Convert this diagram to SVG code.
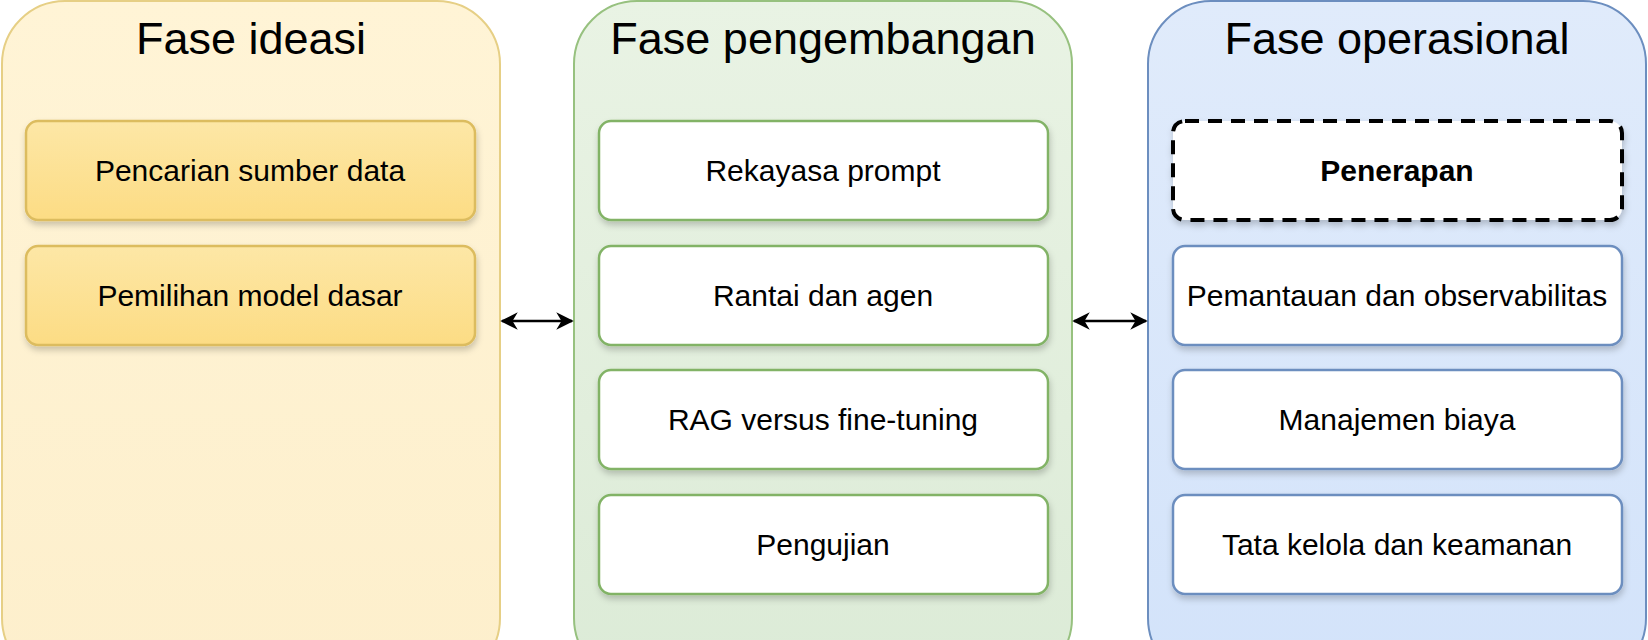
<svg xmlns="http://www.w3.org/2000/svg" width="1648" height="640" viewBox="0 0 1648 640">
<defs>
<linearGradient id="gy" x1="0" y1="0" x2="0" y2="1"><stop offset="0" stop-color="#fff4d6"/><stop offset="1" stop-color="#fdefcc"/></linearGradient>
<linearGradient id="gg" x1="0" y1="0" x2="0" y2="1"><stop offset="0" stop-color="#e9f3e4"/><stop offset="1" stop-color="#dcebd7"/></linearGradient>
<linearGradient id="gb" x1="0" y1="0" x2="0" y2="1"><stop offset="0" stop-color="#e0ebfb"/><stop offset="1" stop-color="#d3e3fa"/></linearGradient>
<linearGradient id="gyb" x1="0" y1="0" x2="0" y2="1"><stop offset="0" stop-color="#fde7a6"/><stop offset="1" stop-color="#fcdc84"/></linearGradient>
<filter id="sh" x="-10%" y="-20%" width="120%" height="150%"><feDropShadow dx="1" dy="4" stdDeviation="3" flood-color="#000" flood-opacity="0.2"/></filter>
<marker id="ah" viewBox="0 0 10 10" refX="9" refY="5" markerWidth="7" markerHeight="7" orient="auto-start-reverse"><path d="M0,0 L10,5 L0,10 L3,5 z" fill="#000"/></marker>
<style>
.t{font-family:"Liberation Sans",Arial,sans-serif;font-size:45px;fill:#000;text-anchor:middle}
.l{font-family:"Liberation Sans",Arial,sans-serif;font-size:30px;fill:#000;text-anchor:middle;dominant-baseline:central}
.p{stroke-width:2}
.b{stroke-width:2.5;filter:url(#sh)}
.c{stroke:#000;stroke-width:2.5;fill:none;marker-start:url(#ah);marker-end:url(#ah)}
</style>
</defs>
<g id="panel-ideasi">
<rect x="2" y="1" width="498" height="680" rx="63" fill="url(#gy)" stroke="#e6cf85" class="p"/>
<text class="t" x="251" y="54">Fase ideasi</text>
</g>
<g id="panel-pengembangan">
<rect x="574" y="1" width="498" height="680" rx="63" fill="url(#gg)" stroke="#97c17f" class="p"/>
<text class="t" x="823" y="54">Fase pengembangan</text>
</g>
<g id="panel-operasional">
<rect x="1148" y="1" width="498" height="680" rx="63" fill="url(#gb)" stroke="#6c8ebf" class="p"/>
<text class="t" x="1397" y="54">Fase operasional</text>
</g>
<g id="n1"><rect x="26" y="121" width="449" height="99" rx="12" fill="url(#gyb)" stroke="#dcbc5e" class="b"/><text class="l" x="250" y="170">Pencarian sumber data</text></g>
<g id="n2"><rect x="26" y="246" width="449" height="99" rx="12" fill="url(#gyb)" stroke="#dcbc5e" class="b"/><text class="l" x="250" y="295">Pemilihan model dasar</text></g>
<g id="n3"><rect x="599" y="121" width="449" height="99" rx="12" fill="#fff" stroke="#82b366" class="b"/><text class="l" x="823" y="170">Rekayasa prompt</text></g>
<g id="n4"><rect x="599" y="246" width="449" height="99" rx="12" fill="#fff" stroke="#82b366" class="b"/><text class="l" x="823" y="295">Rantai dan agen</text></g>
<g id="n5"><rect x="599" y="370" width="449" height="99" rx="12" fill="#fff" stroke="#82b366" class="b"/><text class="l" x="823" y="419">RAG versus fine-tuning</text></g>
<g id="n6"><rect x="599" y="495" width="449" height="99" rx="12" fill="#fff" stroke="#82b366" class="b"/><text class="l" x="823" y="544">Pengujian</text></g>
<g id="n7"><rect x="1173" y="121" width="449" height="99" rx="12" fill="#fff" stroke="#000" stroke-width="4" stroke-dasharray="14 9" filter="url(#sh)"/><text class="l" x="1397" y="170" font-weight="bold">Penerapan</text></g>
<g id="n8"><rect x="1173" y="246" width="449" height="99" rx="12" fill="#fff" stroke="#6c8ebf" class="b"/><text class="l" x="1397" y="295">Pemantauan dan observabilitas</text></g>
<g id="n9"><rect x="1173" y="370" width="449" height="99" rx="12" fill="#fff" stroke="#6c8ebf" class="b"/><text class="l" x="1397" y="419">Manajemen biaya</text></g>
<g id="n10"><rect x="1173" y="495" width="449" height="99" rx="12" fill="#fff" stroke="#6c8ebf" class="b"/><text class="l" x="1397" y="544">Tata kelola dan keamanan</text></g>
<g id="connectors">
<line class="c" x1="502" y1="321" x2="572" y2="321"/>
<line class="c" x1="1074" y1="321" x2="1146" y2="321"/>
</g>
</svg>
